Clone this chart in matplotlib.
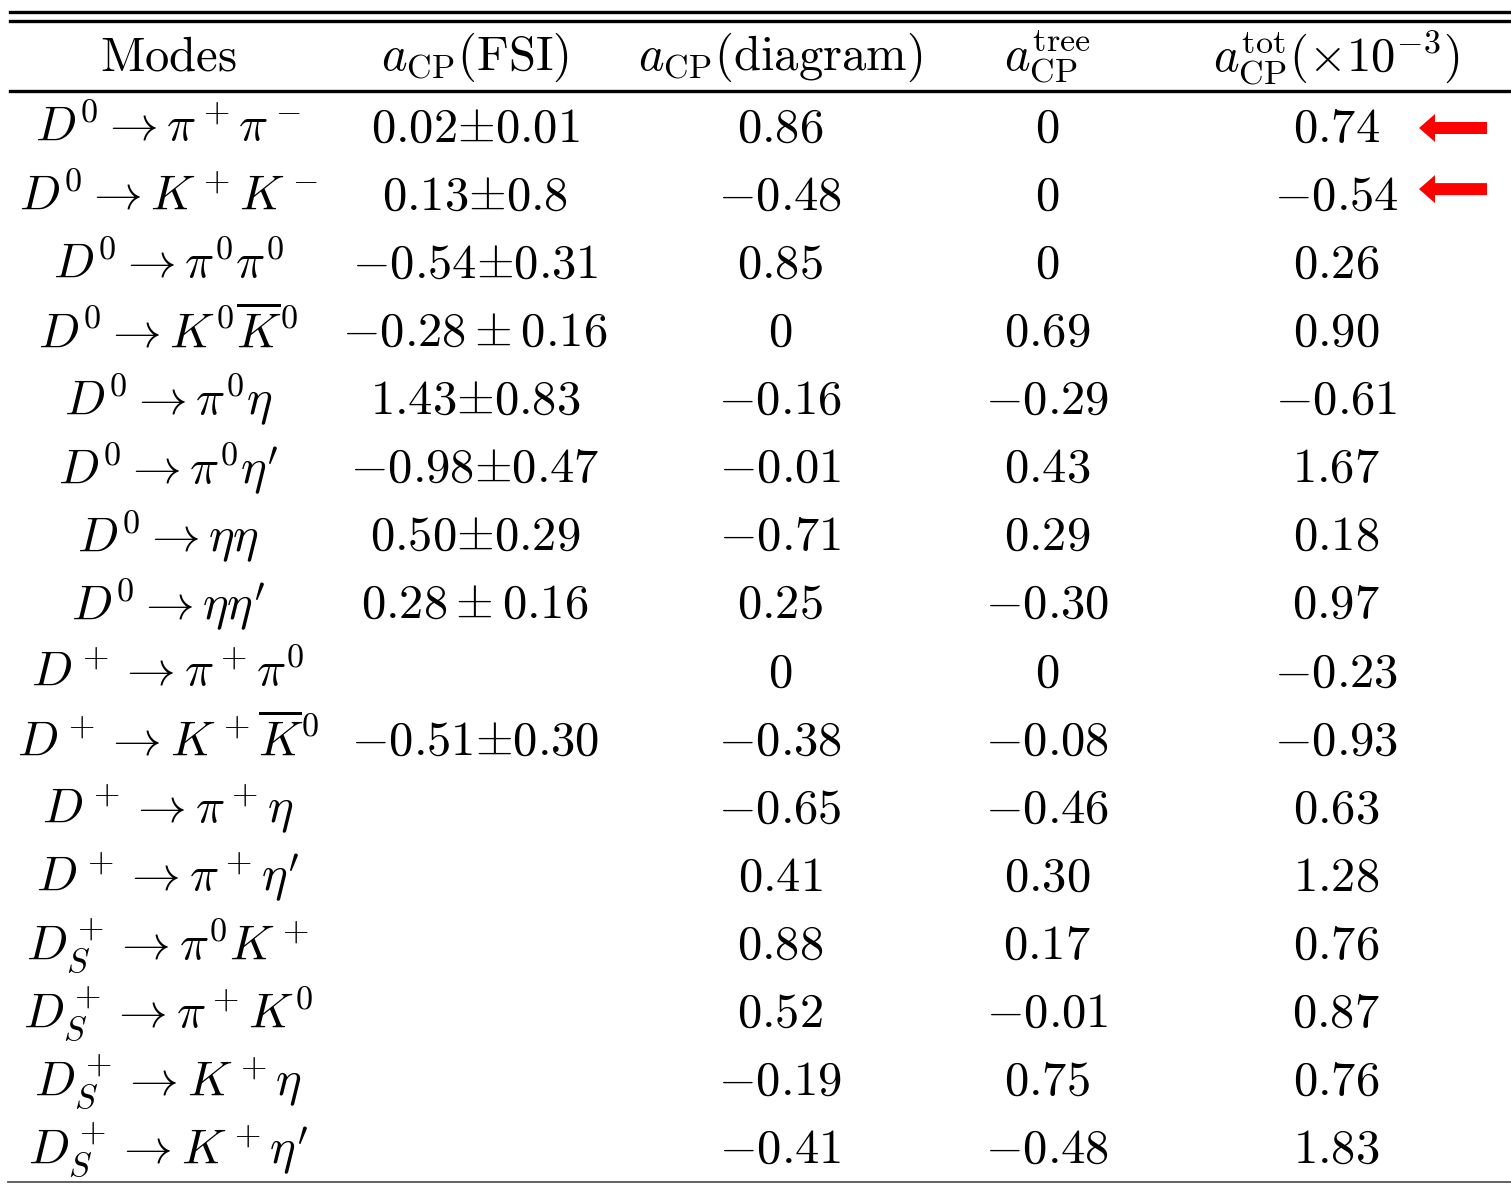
import matplotlib
matplotlib.use("Agg")
import matplotlib.pyplot as plt
from matplotlib.patches import FancyArrow

plt.rcParams['mathtext.fontset'] = 'cm'
plt.rcParams['font.family'] = 'serif'
plt.rcParams['font.serif'] = ['DejaVu Serif']

# ---------------- table data ----------------
headers = [r"$\mathrm{Modes}$", r"$a_{\rm CP}(\rm FSI)$", r"$a_{\rm CP}(\rm diagram)$",
           r"$a_{\rm CP}^{\rm tree}$", r"$a_{\rm CP}^{\rm tot}(\times10^{-3})$"]

modes = [r"$D^0 \rightarrow \pi^+\pi^-$",
         r"$D^0 \rightarrow K^+K^-$",
         r"$D^0 \rightarrow \pi^0\pi^0$",
         r"$D^0 \rightarrow K^0\overline{K}^0$",
         r"$D^0 \rightarrow \pi^0\eta$",
         r"$D^0 \rightarrow \pi^0\eta^\prime$",
         r"$D^0 \rightarrow \eta\eta$",
         r"$D^0 \rightarrow \eta\eta^\prime$",
         r"$D^+ \rightarrow \pi^+\pi^0$",
         r"$D^+ \rightarrow K^+\overline{K}^0$",
         r"$D^+ \rightarrow \pi^+\eta$",
         r"$D^+ \rightarrow \pi^+\eta^\prime$",
         r"$D_S^+ \rightarrow \pi^0K^+$",
         r"$D_S^+ \rightarrow \pi^+K^0$",
         r"$D_S^+ \rightarrow K^+\eta$",
         r"$D_S^+ \rightarrow K^+\eta^\prime$"]

a_fsi = [r"$0.02{\pm}0.01$", r"$0.13{\pm}0.8$", r"$-0.54{\pm}0.31$", r"$-0.28 \pm 0.16$",
         r"$1.43{\pm}0.83$", r"$-0.98{\pm}0.47$", r"$0.50{\pm}0.29$", r"$0.28 \pm 0.16$",
         "", r"$-0.51{\pm}0.30$", "", "", "", "", "", ""]

a_diagram = ["0.86", "-0.48", "0.85", "0", "-0.16", "-0.01", "-0.71", "0.25",
             "0", "-0.38", "-0.65", "0.41", "0.88", "0.52", "-0.19", "-0.41"]

a_tree = ["0", "0", "0", "0.69", "-0.29", "0.43", "0.29", "-0.30",
          "0", "-0.08", "-0.46", "0.30", "0.17", "-0.01", "0.75", "-0.48"]

a_tot = ["0.74", "-0.54", "0.26", "0.90", "-0.61", "1.67", "0.18", "0.97",
         "-0.23", "-0.93", "0.63", "1.28", "0.76", "0.87", "0.76", "1.83"]

highlighted_rows = [0, 1]

# ---------------- layout ----------------
W, H = 1511, 1184
fig = plt.figure(figsize=(W / 100, H / 100), dpi=100)
ax = fig.add_axes([0, 0, 1, 1])
ax.set_xlim(0, W)
ax.set_ylim(H, 0)
ax.axis('off')

col_x = [168, 475, 780, 1047, 1336]
header_y = 57
row0_y = 128
row_step = 68.1
fs = 35

# rules
ax.plot([10, W], [12, 12], color='black', lw=2.4)
ax.plot([10, W], [21, 21], color='black', lw=2.4)
ax.plot([10, W], [91, 91], color='black', lw=2.4)
ax.plot([8, W], [1182, 1182], color='#555555', lw=1.3)

for x, h in zip(col_x, headers):
    ax.text(x, header_y, h, fontsize=fs, ha='center', va='center')


def num(s):
    if s == "":
        return ""
    return "$" + s + "$"


for i in range(len(modes)):
    y = row0_y + i * row_step
    cells = [modes[i], a_fsi[i], num(a_diagram[i]), num(a_tree[i]), num(a_tot[i])]
    for x, c in zip(col_x, cells):
        if c:
            ax.text(x, y, c, fontsize=fs, ha='center', va='center')

# red arrows
for i, dy in zip(highlighted_rows, [0, -7]):
    y = row0_y + i * row_step + dy
    ax.add_patch(FancyArrow(1487, y, -68, 0, width=12, head_width=28,
                            head_length=16, length_includes_head=True,
                            color='#ff0000', lw=0))

fig.savefig("out.png", dpi=100)
